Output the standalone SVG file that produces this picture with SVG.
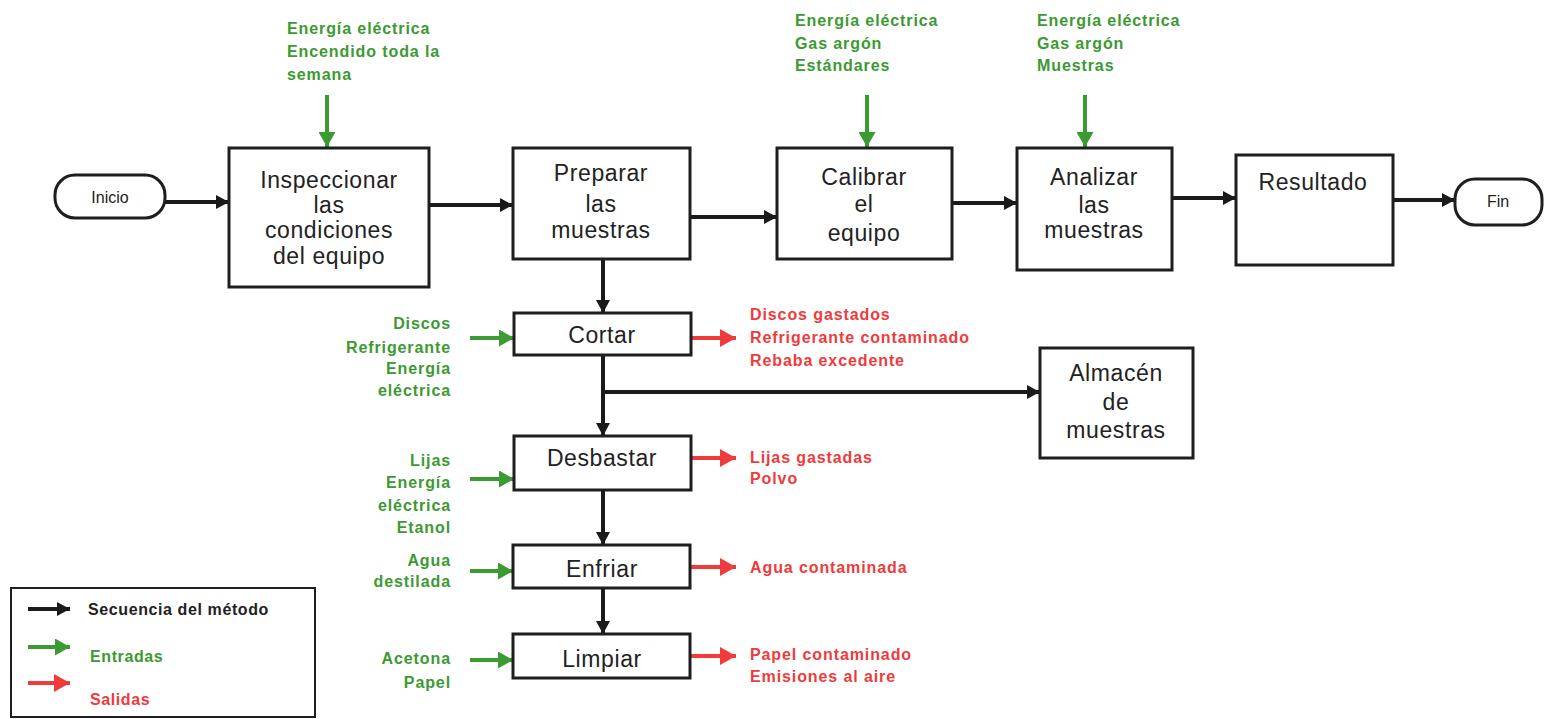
<svg xmlns="http://www.w3.org/2000/svg" width="1547" height="719" viewBox="0 0 1547 719">
  <style>
    .box { fill: #ffffff; stroke: #1e1e1e; stroke-width: 3; }
    .pill { fill: #ffffff; stroke: #1e1e1e; stroke-width: 3; }
    .lbl { font-family: "Liberation Sans", Arial, sans-serif; font-size: 23px; fill: #222222; text-anchor: middle; letter-spacing: 0.6px; }
    .small { font-family: "Liberation Sans", Arial, sans-serif; font-size: 16px; fill: #222222; text-anchor: middle; }
    .in { font-family: "Liberation Sans", Arial, sans-serif; font-size: 16px; font-weight: bold; fill: #3b9a31; letter-spacing: 0.9px; }
    .out { font-family: "Liberation Sans", Arial, sans-serif; font-size: 16px; font-weight: bold; fill: #ef3b3b; letter-spacing: 0.9px; }
    .leg { font-family: "Liberation Sans", Arial, sans-serif; font-size: 16px; font-weight: bold; letter-spacing: 0.6px; }
    .r { text-anchor: end; }
    .seq { stroke: #1a1a1a; stroke-width: 4; fill: none; marker-end: url(#hk); }
    .gin { stroke: #3b9a31; stroke-width: 4; fill: none; marker-end: url(#hg); }
    .rout { stroke: #ef3b3b; stroke-width: 4; fill: none; marker-end: url(#hr); }
  </style>
  <defs>
    <marker id="hk" markerUnits="userSpaceOnUse" markerWidth="13" markerHeight="14" refX="13" refY="7" orient="auto">
      <path d="M0,0 L13,7 L0,14 z" fill="#1a1a1a"/>
    </marker>
    <marker id="hg" markerUnits="userSpaceOnUse" markerWidth="15" markerHeight="17" refX="15" refY="8.5" orient="auto">
      <path d="M0,0 L15,8.5 L0,17 z" fill="#3b9a31"/>
    </marker>
    <marker id="hr" markerUnits="userSpaceOnUse" markerWidth="16" markerHeight="18" refX="16" refY="9" orient="auto">
      <path d="M0,0 L16,9 L0,18 z" fill="#ef3b3b"/>
    </marker>
  </defs>

  <rect width="1547" height="719" fill="#ffffff"/>

  <!-- connectors -->
  <g id="connectors">
    <line class="seq" x1="165" y1="202" x2="229" y2="202"/>
    <line class="seq" x1="430" y1="205" x2="513" y2="205"/>
    <line class="seq" x1="690" y1="217" x2="777" y2="217"/>
    <line class="seq" x1="952" y1="203" x2="1017" y2="203"/>
    <line class="seq" x1="1172" y1="198" x2="1236" y2="198"/>
    <line class="seq" x1="1393" y1="200" x2="1455" y2="200"/>
    <line class="seq" x1="603" y1="259" x2="603" y2="313"/>
    <line class="seq" x1="603" y1="355" x2="603" y2="436"/>
    <line class="seq" x1="602" y1="392" x2="1040" y2="392"/>
    <line class="seq" x1="603" y1="490" x2="603" y2="545"/>
    <line class="seq" x1="603" y1="588" x2="603" y2="634"/>

    <line class="gin" x1="327" y1="95" x2="327" y2="147"/>
    <line class="gin" x1="867" y1="95" x2="867" y2="147"/>
    <line class="gin" x1="1085" y1="95" x2="1085" y2="147"/>
    <line class="gin" x1="470" y1="338" x2="514" y2="338"/>
    <line class="gin" x1="470" y1="479" x2="514" y2="479"/>
    <line class="gin" x1="470" y1="571" x2="513" y2="571"/>
    <line class="gin" x1="470" y1="660" x2="513" y2="660"/>

    <line class="rout" x1="691" y1="338" x2="736" y2="338"/>
    <line class="rout" x1="691" y1="458" x2="736" y2="458"/>
    <line class="rout" x1="690" y1="567" x2="736" y2="567"/>
    <line class="rout" x1="690" y1="656" x2="736" y2="656"/>
  </g>

  <!-- main sequence -->
  <g id="inicio">
    <rect class="pill" x="55" y="175" width="110" height="43" rx="20" ry="20"/>
    <text class="small" x="110" y="203">Inicio</text>
  </g>
  <g id="inspeccionar">
    <rect class="box" x="229" y="148" width="200" height="139"/>
    <text class="lbl" x="329" y="188">Inspeccionar</text>
    <text class="lbl" x="329" y="213">las</text>
    <text class="lbl" x="329" y="238">condiciones</text>
    <text class="lbl" x="329" y="264">del equipo</text>
  </g>
  <g id="preparar">
    <rect class="box" x="513" y="148" width="177" height="111"/>
    <text class="lbl" x="601" y="181">Preparar</text>
    <text class="lbl" x="601" y="212">las</text>
    <text class="lbl" x="601" y="238">muestras</text>
  </g>
  <g id="calibrar">
    <rect class="box" x="777" y="148" width="175" height="111"/>
    <text class="lbl" x="864" y="185">Calibrar</text>
    <text class="lbl" x="864" y="212">el</text>
    <text class="lbl" x="864" y="241">equipo</text>
  </g>
  <g id="analizar">
    <rect class="box" x="1017" y="148" width="155" height="122"/>
    <text class="lbl" x="1094" y="185">Analizar</text>
    <text class="lbl" x="1094" y="213">las</text>
    <text class="lbl" x="1094" y="238">muestras</text>
  </g>
  <g id="resultado">
    <rect class="box" x="1236" y="155" width="157" height="110"/>
    <text class="lbl" x="1313" y="190">Resultado</text>
  </g>
  <g id="fin">
    <rect class="pill" x="1455" y="179" width="87" height="46" rx="20" ry="20"/>
    <text class="small" x="1498" y="207">Fin</text>
  </g>

  <!-- preparation steps -->
  <g id="cortar">
    <rect class="box" x="514" y="313" width="177" height="42"/>
    <text class="lbl" x="602" y="343">Cortar</text>
  </g>
  <g id="desbastar">
    <rect class="box" x="514" y="436" width="177" height="54"/>
    <text class="lbl" x="602" y="466">Desbastar</text>
  </g>
  <g id="enfriar">
    <rect class="box" x="513" y="545" width="177" height="43"/>
    <text class="lbl" x="602" y="577">Enfriar</text>
  </g>
  <g id="limpiar">
    <rect class="box" x="513" y="634" width="177" height="44"/>
    <text class="lbl" x="602" y="667">Limpiar</text>
  </g>
  <g id="almacen">
    <rect class="box" x="1040" y="348" width="153" height="110"/>
    <text class="lbl" x="1116" y="381">Almacén</text>
    <text class="lbl" x="1116" y="410">de</text>
    <text class="lbl" x="1116" y="438">muestras</text>
  </g>

  <!-- inputs -->
  <g id="entradas-inspeccionar">
    <text class="in" x="287" y="34">Energía eléctrica</text>
    <text class="in" x="287" y="57">Encendido toda la</text>
    <text class="in" x="287" y="80">semana</text>
  </g>
  <g id="entradas-calibrar">
    <text class="in" x="795" y="26">Energía eléctrica</text>
    <text class="in" x="795" y="49">Gas argón</text>
    <text class="in" x="795" y="71">Estándares</text>
  </g>
  <g id="entradas-analizar">
    <text class="in" x="1037" y="26">Energía eléctrica</text>
    <text class="in" x="1037" y="49">Gas argón</text>
    <text class="in" x="1037" y="71">Muestras</text>
  </g>
  <g id="entradas-cortar">
    <text class="in r" x="451" y="329">Discos</text>
    <text class="in r" x="451" y="353">Refrigerante</text>
    <text class="in r" x="451" y="374">Energía</text>
    <text class="in r" x="451" y="396">eléctrica</text>
  </g>
  <g id="entradas-desbastar">
    <text class="in r" x="451" y="466">Lijas</text>
    <text class="in r" x="451" y="488">Energía</text>
    <text class="in r" x="451" y="511">eléctrica</text>
    <text class="in r" x="451" y="533">Etanol</text>
  </g>
  <g id="entradas-enfriar">
    <text class="in r" x="451" y="566">Agua</text>
    <text class="in r" x="451" y="587">destilada</text>
  </g>
  <g id="entradas-limpiar">
    <text class="in r" x="451" y="664">Acetona</text>
    <text class="in r" x="451" y="688">Papel</text>
  </g>

  <!-- outputs -->
  <g id="salidas-cortar">
    <text class="out" x="750" y="320">Discos gastados</text>
    <text class="out" x="750" y="343">Refrigerante contaminado</text>
    <text class="out" x="750" y="366">Rebaba excedente</text>
  </g>
  <g id="salidas-desbastar">
    <text class="out" x="750" y="463">Lijas gastadas</text>
    <text class="out" x="750" y="484">Polvo</text>
  </g>
  <g id="salidas-enfriar">
    <text class="out" x="750" y="573">Agua contaminada</text>
  </g>
  <g id="salidas-limpiar">
    <text class="out" x="750" y="660">Papel contaminado</text>
    <text class="out" x="750" y="682">Emisiones al aire</text>
  </g>

  <!-- legend -->
  <g id="leyenda">
    <rect x="11" y="588" width="304" height="129" fill="#ffffff" stroke="#1e1e1e" stroke-width="2"/>
    <line class="seq" x1="28" y1="609" x2="70" y2="609"/>
    <line class="gin" x1="28" y1="647" x2="70" y2="647"/>
    <line class="rout" x1="28" y1="683" x2="70" y2="683"/>
    <text class="leg" x="88" y="615" fill="#222222">Secuencia del método</text>
    <text class="leg" x="90" y="662" fill="#3b9a31">Entradas</text>
    <text class="leg" x="90" y="705" fill="#ef3b3b">Salidas</text>
  </g>
</svg>
